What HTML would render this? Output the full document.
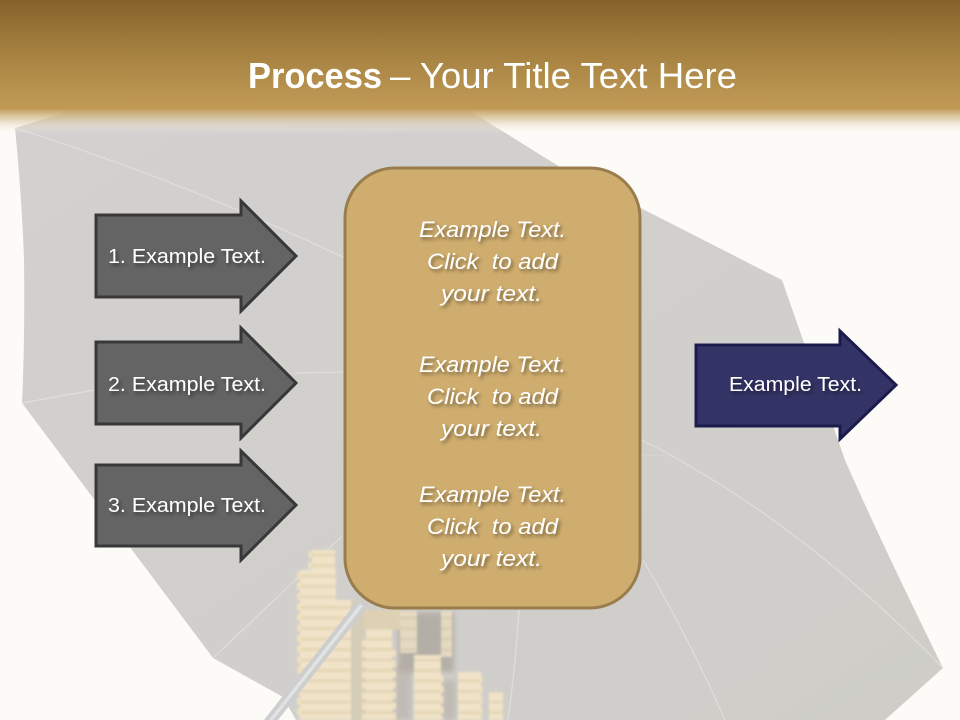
<!DOCTYPE html>
<html>
<head>
<meta charset="utf-8">
<style>
html,body{margin:0;padding:0;background:#fcfbf7;width:960px;height:720px;overflow:hidden}
svg{display:block}
text{font-family:"Liberation Sans",sans-serif;fill:#fff}
</style>
</head>
<body>
<svg width="960" height="720" viewBox="0 0 960 720" xmlns="http://www.w3.org/2000/svg">
<defs>
<linearGradient id="hdr" x1="0" y1="0" x2="0" y2="1">
<stop offset="0" stop-color="#84622a"/>
<stop offset="0.32" stop-color="#a07c3c"/>
<stop offset="0.79" stop-color="#c09a55"/>
<stop offset="0.81" stop-color="#c09a55"/>
<stop offset="0.89" stop-color="#d8c299" stop-opacity="0.7"/>
<stop offset="1" stop-color="#fcfbf7" stop-opacity="0"/>
</linearGradient>
<linearGradient id="can" x1="0" y1="0" x2="1" y2="1">
<stop offset="0" stop-color="#d3d1cf"/>
<stop offset="0.6" stop-color="#d1cfcc"/>
<stop offset="1" stop-color="#cecdc8"/>
</linearGradient>
<pattern id="coin" width="8" height="10.5" patternUnits="userSpaceOnUse">
<rect width="8" height="10.5" fill="#f0e3c8"/>
<rect y="7.5" width="8" height="3" fill="#e5d6b6"/>
</pattern>
<filter id="s1" x="-10%" y="-30%" width="125%" height="170%">
<feDropShadow dx="2" dy="2.5" stdDeviation="1.8" flood-color="#000" flood-opacity="0.45"/>
</filter>
<filter id="soft" x="-5%" y="-5%" width="110%" height="110%">
<feGaussianBlur stdDeviation="1"/>
</filter>
<filter id="soft2" x="-10%" y="-10%" width="120%" height="120%">
<feGaussianBlur stdDeviation="3"/>
</filter>
</defs>

<rect width="960" height="720" fill="#fcfbf7"/>

<!-- umbrella canopy -->
<path d="M90 105 L15 128 Q22 200 24 260 Q25 340 22 403 L213 658 L283 697 L296 720 L885 720 L943 668 Q880 540 845 460 L804 343 L782 280 L560 167 L462 106 Z" fill="url(#can)"/>

<!-- ribs -->
<g fill="none" stroke="#e0dedb" stroke-width="1.2">
<path d="M15 128 Q180 180 345 258"/>
<path d="M22 403 L100 389"/>
<path d="M295 373 L345 372"/>
<path d="M213 658 L342 536"/>
<path d="M640 439 Q800 520 943 668"/>
<path d="M643 560 Q690 640 725 720"/>
<path d="M519 610 Q515 670 508 720"/>
<path d="M640 455 L676 456" stroke="#d9d7d3" stroke-width="0.8"/>
</g>

<!-- coins -->
<rect x="398" y="612" width="56" height="60" fill="#a8a297" filter="url(#soft2)" opacity=".7"/>
<rect x="395" y="665" width="16" height="55" fill="#b5afa4" filter="url(#soft2)" opacity=".6"/>
<rect x="442" y="680" width="14" height="40" fill="#b5afa4" filter="url(#soft2)" opacity=".6"/>
<g filter="url(#soft)">
<rect x="345" y="600" width="20" height="120" fill="#d6cdb9"/>
<rect x="300" y="570" width="36" height="150" fill="url(#coin)"/>
<rect x="312" y="550" width="23" height="20" fill="url(#coin)"/>
<line x1="299" y1="572" x2="299" y2="720" stroke="#efe0c0" stroke-width="4" stroke-dasharray="7 3.5"/>
<line x1="310" y1="551" x2="310" y2="570" stroke="#efe0c0" stroke-width="3" stroke-dasharray="7 3.5"/>
<rect x="324" y="600" width="27" height="120" fill="url(#coin)"/>
<rect x="364" y="610" width="36" height="20" fill="#ded0b2"/>
<rect x="366" y="628" width="26" height="92" fill="url(#coin)"/>
<line x1="364" y1="640" x2="364" y2="720" stroke="#efe0c0" stroke-width="4" stroke-dasharray="7 3.5"/>
<line x1="394" y1="650" x2="394" y2="720" stroke="#efe0c0" stroke-width="4" stroke-dasharray="7 3.5"/>
<rect x="400" y="611" width="17" height="42" fill="url(#coin)" opacity=".8"/>
<rect x="441" y="611" width="11" height="46" fill="url(#coin)" opacity=".8"/>
<rect x="414" y="655" width="27" height="65" fill="url(#coin)"/>
<line x1="442" y1="675" x2="442" y2="720" stroke="#efe0c0" stroke-width="3" stroke-dasharray="7 3.5"/>
<rect x="458" y="672" width="23" height="48" fill="url(#coin)"/>
<line x1="481" y1="676" x2="481" y2="720" stroke="#efe0c0" stroke-width="3" stroke-dasharray="7 3.5"/>
<rect x="489" y="692" width="14" height="28" fill="url(#coin)"/>
</g>

<!-- handle -->
<polygon points="358,600 368,606 278,720 264,720" fill="#cdcecf"/>
<polygon points="360,604 363,606 273,720 269,720" fill="#e3e3e2"/>

<!-- header -->
<rect width="960" height="134" fill="url(#hdr)"/>

<!-- title -->
<text x="248" y="88" font-size="36" font-weight="bold" textLength="134" lengthAdjust="spacingAndGlyphs">Process</text>
<text x="390" y="88" font-size="36" textLength="347" lengthAdjust="spacingAndGlyphs">– Your Title Text Here</text>

<!-- left arrows -->
<g fill="#646464" stroke="#383838" stroke-width="3" stroke-linejoin="miter">
<polygon points="96,215 241,215 241,201 296,256 241,311 241,297 96,297"/>
<polygon points="96,342 241,342 241,328 296,383 241,438 241,424 96,424"/>
<polygon points="96,465 241,465 241,451 296,505 241,560 241,546 96,546"/>
</g>

<!-- right arrow -->
<polygon points="696,345 840,345 840,331 896,385 840,439 840,426 696,426" fill="#333366" stroke="#1c1c4c" stroke-width="3"/>

<!-- central box -->
<rect x="345" y="168" width="295" height="440" rx="50" ry="50" fill="#cfad6e" stroke="#9a7d4d" stroke-width="3"/>

<!-- arrow labels -->
<g font-size="20" filter="url(#s1)">
<text x="108" y="263" textLength="158" lengthAdjust="spacingAndGlyphs">1. Example Text.</text>
<text x="108" y="391" textLength="158" lengthAdjust="spacingAndGlyphs">2. Example Text.</text>
<text x="108" y="512" textLength="158" lengthAdjust="spacingAndGlyphs">3. Example Text.</text>
<text x="729" y="391" textLength="133" lengthAdjust="spacingAndGlyphs">Example Text.</text>
</g>

<!-- box text -->
<g font-size="22" font-style="italic" filter="url(#s1)">
<text x="419" y="237" textLength="147" lengthAdjust="spacingAndGlyphs">Example Text.</text>
<text x="427" y="269" textLength="131" lengthAdjust="spacingAndGlyphs" xml:space="preserve">Click  to add</text>
<text x="441" y="301" textLength="101" lengthAdjust="spacingAndGlyphs">your text.</text>
<text x="419" y="372" textLength="147" lengthAdjust="spacingAndGlyphs">Example Text.</text>
<text x="427" y="404" textLength="131" lengthAdjust="spacingAndGlyphs" xml:space="preserve">Click  to add</text>
<text x="441" y="436" textLength="101" lengthAdjust="spacingAndGlyphs">your text.</text>
<text x="419" y="502" textLength="147" lengthAdjust="spacingAndGlyphs">Example Text.</text>
<text x="427" y="534" textLength="131" lengthAdjust="spacingAndGlyphs" xml:space="preserve">Click  to add</text>
<text x="441" y="566" textLength="101" lengthAdjust="spacingAndGlyphs">your text.</text>
</g>
</svg>
</body>
</html>
